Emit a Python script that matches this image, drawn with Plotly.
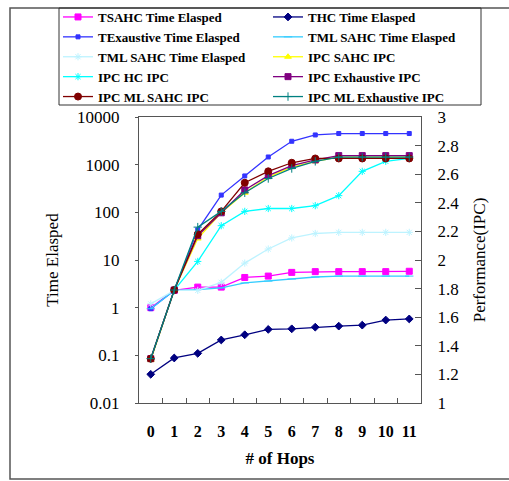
import plotly.graph_objects as go

hops = [str(i) for i in range(12)]

# Time elapsed series (left, log axis)
t_sahc = [1.0, 2.3, 2.7, 2.7, 4.3, 4.6, 5.5, 5.7, 5.7, 5.7, 5.7, 5.8]
t_hc = [0.04, 0.088, 0.11, 0.21, 0.27, 0.35, 0.36, 0.39, 0.41, 0.43, 0.55, 0.58]
t_exhaustive = [0.95, 2.3, 43, 230, 580, 1450, 3100, 4200, 4500, 4500, 4500, 4500]
t_ml_sahc_a = [0.95, 2.3, 2.4, 2.6, 3.3, 3.6, 4.0, 4.4, 4.6, 4.6, 4.6, 4.6]
t_ml_sahc_b = [1.2, 2.3, 2.3, 3.4, 8.6, 17, 29, 36, 38, 38, 38, 38]

# IPC series (right axis)
ipc_sahc = [1.30, 1.79, 2.15, 2.33, 2.47, 2.58, 2.65, 2.69, 2.72, 2.72, 2.72, 2.72]
ipc_hc = [1.31, 1.79, 1.99, 2.24, 2.34, 2.36, 2.36, 2.38, 2.45, 2.62, 2.69, 2.71]
ipc_exhaustive = [1.31, 1.79, 2.17, 2.33, 2.49, 2.59, 2.66, 2.70, 2.73, 2.73, 2.73, 2.73]
ipc_ml_sahc = [1.31, 1.79, 2.18, 2.34, 2.54, 2.62, 2.68, 2.71, 2.71, 2.71, 2.71, 2.71]
ipc_ml_exhaustive = [1.31, 1.79, 2.23, 2.34, 2.47, 2.57, 2.64, 2.69, 2.72, 2.72, 2.72, 2.72]

left_ticks = [0.01, 0.1, 1, 10, 100, 1000, 10000]
left_ticktext = ["0.01", "0.1", "1", "10", "100", "1000", "10000"]
right_ticks = [1, 1.2, 1.4, 1.6, 1.8, 2, 2.2, 2.4, 2.6, 2.8, 3]
right_ticktext = ["1", "1.2", "1.4", "1.6", "1.8", "2", "2.2", "2.4", "2.6", "2.8", "3"]

# (name, values, axis, colour, symbol, size, legend column)
series = [
    ("TSAHC Time Elasped", t_sahc, "y", "#FF00FF", "square", 6, "legend"),
    ("THC Time Elasped", t_hc, "y", "#000080", "diamond", 6, "legend2"),
    ("TExaustive Time Elasped", t_exhaustive, "y", "#3333FF", "square", 4, "legend"),
    ("TML SAHC Time Elasped", t_ml_sahc_a, "y", "#33CCFF", "line-ew-open", 6, "legend2"),
    ("TML SAHC Time Elasped", t_ml_sahc_b, "y", "#BDF3FF", "asterisk-open", 6, "legend"),
    ("IPC SAHC IPC", ipc_sahc, "y2", "#FFFF00", "triangle-up", 6, "legend2"),
    ("IPC HC IPC", ipc_hc, "y2", "#00FFFF", "asterisk-open", 6, "legend"),
    ("IPC Exhaustive IPC", ipc_exhaustive, "y2", "#800080", "square", 6, "legend2"),
    ("IPC ML SAHC IPC", ipc_ml_sahc, "y2", "#800000", "circle", 7, "legend"),
    ("IPC ML Exhaustive IPC", ipc_ml_exhaustive, "y2", "#008080", "cross-thin-open", 6, "legend2"),
]

fig = go.Figure()
for name, vals, ax, col, sym, sz, lg in series:
    fig.add_trace(go.Scatter(
        x=hops, y=vals, name=name, yaxis=ax, mode="lines+markers", legend=lg,
        line=dict(color=col, width=1.3),
        marker=dict(color=col, symbol=sym, size=sz, line=dict(color=col, width=1)),
    ))

font = "Liberation Serif, Times New Roman, serif"
W, H = 509, 481
L, R, T, B = 139, 421, 117, 403
pw, ph = R - L, B - T

def px(x):
    return (x - L) / pw

def py(y):
    return (B - y) / ph

legfont = dict(family=font, size=13, color="black", weight="bold")
legcommon = dict(orientation="v", yanchor="top", xanchor="left",
                 bgcolor="rgba(0,0,0,0)", borderwidth=0, font=legfont,
                 tracegroupgap=0)

fig.update_layout(
    width=W, height=H,
    margin=dict(l=L, r=W - R, t=T, b=H - B, pad=0, autoexpand=False),
    paper_bgcolor="white", plot_bgcolor="white",
    font=dict(family=font, size=16, color="black"),
    showlegend=True,
    legend=dict(x=px(58), y=py(2), **legcommon),
    legend2=dict(x=px(268), y=py(2), **legcommon),
    xaxis=dict(
        type="category", range=[-0.5, 11.5], tickson="boundaries",
        ticks="inside", ticklen=5, tickcolor="#555555", tickangle=0,
        ticklabelstandoff=14,
        showline=True, linecolor="#555555", linewidth=1, mirror=True,
        showgrid=False, zeroline=False,
        tickfont=dict(family=font, size=16, weight="bold"),
        title=dict(text="# of Hops", font=dict(family=font, size=17, weight="bold"), standoff=12),
    ),
    yaxis=dict(
        type="log", range=[-2, 4], tickvals=left_ticks, ticktext=left_ticktext,
        ticks="outside", ticklen=3, tickcolor="#555555",
        ticklabelstandoff=12,
        showline=True, linecolor="#555555", linewidth=1,
        showgrid=False, zeroline=False,
        tickfont=dict(family=font, size=17),
        title=dict(text="Time Elasped", font=dict(family=font, size=17), standoff=14),
    ),
    yaxis2=dict(
        overlaying="y", side="right", range=[1, 3],
        tickvals=right_ticks, ticktext=right_ticktext,
        ticks="inside", ticklen=6, tickcolor="#555555",
        ticklabelstandoff=12,
        showline=True, linecolor="#555555", linewidth=1,
        showgrid=False, zeroline=False,
        tickfont=dict(family=font, size=17),
        title=dict(text="Performance(IPC)", font=dict(family=font, size=17), standoff=14),
    ),
    shapes=[
        dict(type="rect", xref="paper", yref="paper",
             x0=px(10), x1=px(520), y0=py(479), y1=py(8),
             line=dict(color="#555555", width=1.5), fillcolor="rgba(0,0,0,0)", layer="below"),
        dict(type="rect", xref="paper", yref="paper",
             x0=px(59), x1=px(481), y0=py(105), y1=py(8),
             line=dict(color="#333333", width=1), fillcolor="rgba(0,0,0,0)", layer="below"),
    ],
)

fig.write_html("out.html")
